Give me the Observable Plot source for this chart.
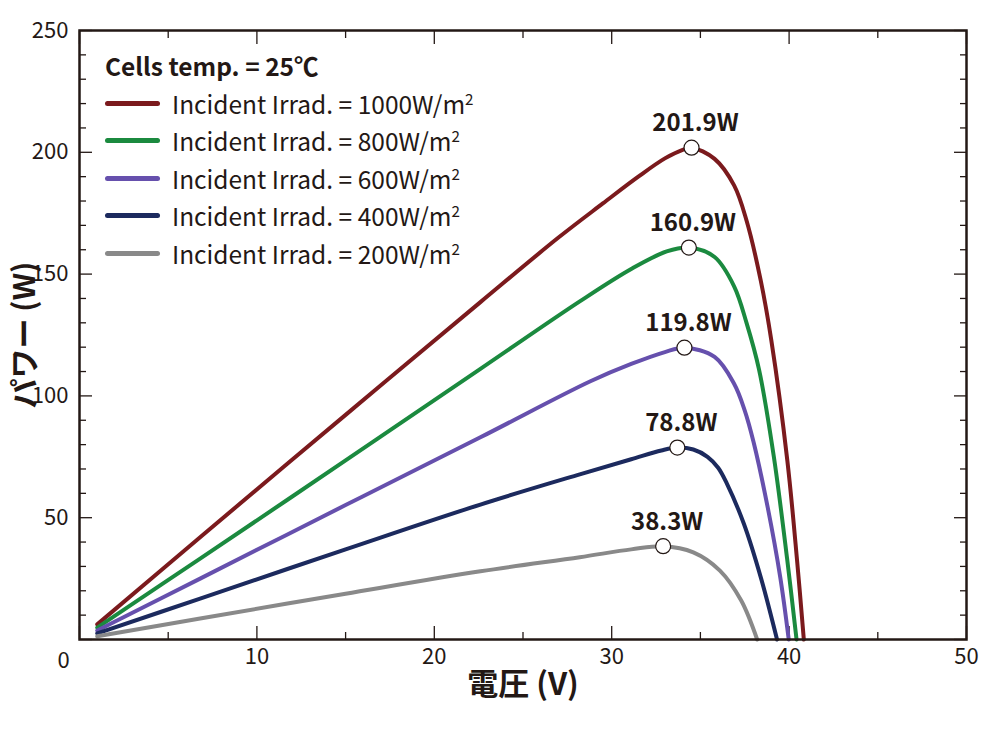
<!DOCTYPE html>
<html><head><meta charset="utf-8">
<script src="https://cdn.jsdelivr.net/npm/d3@7"></script>
<script src="https://cdn.jsdelivr.net/npm/@observablehq/plot@0.6"></script>
<style>
body{margin:0;background:#fff;}
#wrap{position:relative;width:1000px;height:730px;font-family:"Noto Sans CJK JP","Noto Sans",sans-serif;color:#231815;}
#legend{position:absolute;left:105px;top:47px;}
#legend .row{height:37.5px;display:flex;align-items:center;white-space:nowrap;}
#legend .title{font-weight:bold;font-size:24.5px;}
#legend .sw{width:55px;height:5px;border-radius:3px;margin-right:12px;}
#legend .txt{font-size:24.5px;}
#legend sup{font-size:0.62em;vertical-align:0.6em;line-height:0;}
#ytitle{position:absolute;left:22px;top:334.5px;transform:translate(-50%,-50%) rotate(-90deg);font-size:30px;font-weight:bold;white-space:nowrap;line-height:1;}
</style></head><body><div id="wrap"></div>
<script>
// Series (incident irradiance, W/m2)
const seriesNames = ["1000", "800", "600", "400", "200"];
const seriesColors = ["#7b1a1d", "#1b8a3f", "#6650ad", "#1c2a5e", "#898989"];
const legendTitle = "Cells temp. = 25℃";

// Voltage (V) / power (W) points
const v1000 = [1.0, 6.8, 15, 22.6, 27.0, 29.5, 31.5, 33.0, 34.0, 34.5, 35.8, 36.9, 37.6, 38.4, 39.0, 39.9, 40.45, 40.83];
const p1000 = [6.2, 42.0, 92.2, 138.5, 165.0, 179.0, 190.0, 197.5, 201.0, 201.9, 197.3, 186.4, 172.0, 147.4, 122.7, 73.5, 32.4, 0];
const v800 = [1.0, 6.8, 15, 22.6, 28.2, 31.1, 33.1, 34.35, 35.8, 36.9, 37.6, 38.3, 39.14, 39.89, 40.42];
const p800 = [4.9, 33.2, 73.5, 111.1, 138.8, 152.1, 159.3, 160.9, 157.0, 145.0, 130.0, 111.0, 75.0, 33.0, 0];
const v600 = [1.0, 6.8, 15, 22.6, 28.8, 31.1, 33.0, 34.1, 35.8, 36.9, 37.5, 38.0, 38.8, 39.5, 39.98];
const p600 = [3.7, 25.0, 55.2, 83.0, 106.0, 113.1, 118.0, 119.8, 116.0, 105.0, 94.0, 81.0, 54.0, 25.6, 0];
const v400 = [1.0, 6.8, 15, 22.6, 28.2, 31.1, 32.8, 33.7, 34.6, 35.4, 36.0, 36.5, 37.45, 38.4, 39.32];
const p400 = [2.5, 16.8, 37.0, 55.4, 67.8, 74.0, 77.6, 78.8, 78.0, 75.0, 70.5, 63.9, 47.5, 25.6, 0];
const v200 = [1.0, 6.8, 15, 22.6, 28.2, 31.1, 32.9, 34.6, 36.1, 37.3, 38.2];
const p200 = [1.3, 8.6, 18.8, 28.0, 33.8, 37.0, 38.3, 35.8, 28.3, 16.0, 0];

// Maximum power points
const peakV = [34.5, 34.35, 34.1, 33.7, 32.9];
const peakP = [201.9, 160.9, 119.8, 78.8, 38.3];

// Axis ticks
const xMajor = [0, 10, 20, 30, 40, 50];
const xMinor = [5, 15, 25, 35, 45];
const yMajor = [0, 50, 100, 150, 200, 250];
const yMinor = [10, 20, 30, 40, 60, 70, 80, 90, 110, 120, 130, 140, 160, 170, 180, 190, 210, 220, 230, 240];
const xTitle = "電圧 (V)";
const yTitle = "パワー (W)";

const vs = [v1000, v800, v600, v400, v200];
const ps = [p1000, p800, p600, p400, p200];
const rows = [];
seriesNames.forEach((s, k) => vs[k].forEach((v, i) => rows.push({series: s, V: v, P: ps[k][i]})));
const peaks = seriesNames.map((s, k) => ({series: s, V: peakV[k], P: peakP[k]}));

const ink = "#231815";
const blank = () => "";

const chart = Plot.plot({
  width: 1000, height: 730,
  marginLeft: 79, marginRight: 34, marginTop: 30, marginBottom: 91,
  style: {fontFamily: '"Noto Sans CJK JP","Noto Sans",sans-serif', color: ink, background: "white"},
  x: {domain: [0, 50], label: null},
  y: {domain: [0, 250], label: null},
  color: {domain: seriesNames, range: seriesColors},
  marks: [
    // inward ticks on all four sides
    Plot.axisX(xMajor, {anchor: "bottom", tickSize: -13, tickFormat: blank, label: null, stroke: ink, strokeWidth: 1.3}),
    Plot.axisX(xMinor, {anchor: "bottom", tickSize: -7, tickFormat: blank, label: null, stroke: ink, strokeWidth: 1.3}),
    Plot.axisX(xMajor, {anchor: "top", tickSize: -13, tickFormat: blank, label: null, stroke: ink, strokeWidth: 1.3}),
    Plot.axisX(xMinor, {anchor: "top", tickSize: -7, tickFormat: blank, label: null, stroke: ink, strokeWidth: 1.3}),
    Plot.axisY(yMajor, {anchor: "left", tickSize: -13, tickFormat: blank, label: null, stroke: ink, strokeWidth: 1.3}),
    Plot.axisY(yMinor, {anchor: "left", tickSize: -7, tickFormat: blank, label: null, stroke: ink, strokeWidth: 1.3}),
    Plot.axisY(yMajor, {anchor: "right", tickSize: -13, tickFormat: blank, label: null, stroke: ink, strokeWidth: 1.3}),
    Plot.axisY(yMinor, {anchor: "right", tickSize: -7, tickFormat: blank, label: null, stroke: ink, strokeWidth: 1.3}),
    // tick labels
    Plot.axisX(xMajor.filter(d => d > 0), {anchor: "bottom", tickSize: 0, tickPadding: 9, fontSize: 22, label: null}),
    Plot.axisY(yMajor.filter(d => d > 0), {anchor: "left", tickSize: 0, tickPadding: 11, fontSize: 22, label: null}),
    Plot.text([xMajor[0]], {x: d => d, y: yMajor[0], text: d => String(d), dx: -16, dy: 21, fontSize: 22, fill: ink}),
    // x axis title
    Plot.text([xTitle], {frameAnchor: "bottom", text: d => d, dy: 55, fontSize: 31, fontWeight: "bold", fill: ink, textAnchor: "middle"}),
    // curves
    Plot.line(rows, {x: "V", y: "P", z: "series", stroke: "series", strokeWidth: 4, curve: "catmull-rom"}),
    Plot.frame({stroke: ink, strokeWidth: 2.5}),
    // max power points
    Plot.dot(peaks, {x: "V", y: "P", r: 7.5, fill: "white", stroke: ink, strokeWidth: 1.2}),
    Plot.text(peaks, {x: "V", y: "P", text: d => d.P.toFixed(1) + "W", dy: -24, dx: 4, fontSize: 24, fontWeight: "bold", fill: ink})
  ]
});

const wrap = document.getElementById("wrap");
wrap.appendChild(chart);

const yt = document.createElement("div");
yt.id = "ytitle";
yt.textContent = yTitle;
wrap.appendChild(yt);

const legend = document.createElement("div");
legend.id = "legend";
let html = `<div class="row title">${legendTitle}</div>`;
seriesNames.forEach((s, k) => {
  html += `<div class="row"><div class="sw" style="background:${seriesColors[k]}"></div><span class="txt">Incident Irrad. = ${s}W/m<sup>2</sup></span></div>`;
});
legend.innerHTML = html;
wrap.appendChild(legend);
</script>
</body></html>
